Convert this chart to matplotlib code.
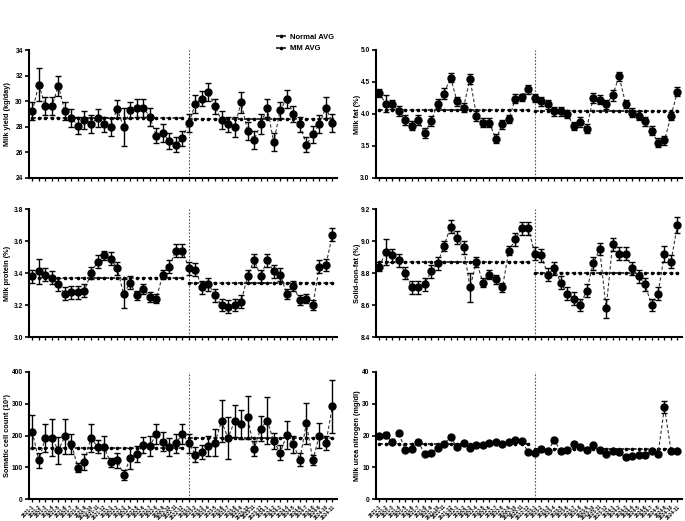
import numpy as np
import matplotlib.pyplot as plt
from matplotlib.lines import Line2D

plt.rcParams["font.family"] = ["Liberation Sans", "DejaVu Sans"]
plt.rcParams["font.weight"] = "bold"
plt.rcParams["axes.labelweight"] = "bold"

# months 2021-1 .. 2024-11
MONTHS = [f"{y}-{m}" for y in (2021, 2022, 2023, 2024) for m in range(1, 13)][:47]
SPLIT = 24  # first MM month

yield_vals = [29.2, 31.3, 29.6, 29.6, 31.2, 29.2, 28.7, 28.1, 28.5, 28.2, 28.7, 28.2,
              28.0, 29.4, 28.0, 29.3, 29.5, 29.5, 28.8, 27.3, 27.5, 26.9, 26.6, 27.1,
              28.3, 29.8, 30.2, 30.7, 29.6, 28.5, 28.2, 28.0, 29.9, 27.7, 27.0, 28.2,
              29.5, 26.8, 29.3, 30.2, 29.0, 28.2, 26.6, 27.4, 28.2, 29.5, 28.3]
yield_err = [0.7, 1.3, 0.7, 0.7, 0.8, 0.7, 0.7, 0.7, 0.7, 0.7, 0.7, 0.6,
             0.7, 0.7, 1.5, 0.6, 0.7, 0.7, 0.7, 0.6, 0.7, 0.6, 0.6, 0.6,
             0.7, 0.7, 0.6, 0.7, 0.6, 0.7, 0.6, 0.8, 0.8, 0.7, 0.7, 0.8,
             0.7, 0.7, 0.6, 0.7, 0.6, 0.6, 0.6, 0.7, 0.7, 0.8, 0.7]

fat_vals = [4.33, 4.16, 4.15, 4.05, 3.91, 3.82, 3.91, 3.70, 3.89, 4.16, 4.32, 4.57,
            4.20, 4.10, 4.55, 3.97, 3.86, 3.86, 3.61, 3.84, 3.92, 4.24, 4.26, 4.39,
            4.25, 4.20, 4.15, 4.04, 4.04, 4.00, 3.81, 3.88, 3.77, 4.25, 4.22, 4.15,
            4.29, 4.59, 4.16, 4.02, 3.97, 3.89, 3.74, 3.55, 3.59, 3.97, 4.35]
fat_err = [0.06, 0.13, 0.07, 0.08, 0.08, 0.07, 0.08, 0.08, 0.08, 0.07, 0.08, 0.07,
           0.07, 0.07, 0.08, 0.08, 0.07, 0.07, 0.07, 0.07, 0.06, 0.07, 0.06, 0.07,
           0.07, 0.07, 0.07, 0.07, 0.07, 0.07, 0.06, 0.08, 0.07, 0.08, 0.07, 0.07,
           0.08, 0.07, 0.06, 0.07, 0.07, 0.07, 0.07, 0.07, 0.07, 0.06, 0.07]

protein_vals = [3.38, 3.41, 3.39, 3.37, 3.33, 3.27, 3.28, 3.28, 3.29, 3.40, 3.47, 3.51,
                3.49, 3.43, 3.27, 3.34, 3.26, 3.30, 3.25, 3.24, 3.39, 3.44, 3.54, 3.54,
                3.43, 3.42, 3.31, 3.33, 3.26, 3.20, 3.19, 3.20, 3.22, 3.38, 3.48, 3.38,
                3.48, 3.41, 3.39, 3.27, 3.32, 3.23, 3.24, 3.20, 3.44, 3.45, 3.64]
protein_err = [0.04, 0.08, 0.04, 0.04, 0.04, 0.04, 0.04, 0.04, 0.04, 0.04, 0.04, 0.03,
               0.04, 0.04, 0.09, 0.04, 0.03, 0.03, 0.03, 0.03, 0.03, 0.04, 0.04, 0.04,
               0.04, 0.04, 0.04, 0.04, 0.04, 0.04, 0.04, 0.04, 0.04, 0.04, 0.04, 0.04,
               0.04, 0.04, 0.04, 0.03, 0.03, 0.03, 0.03, 0.03, 0.04, 0.04, 0.04]

snf_vals = [8.84, 8.93, 8.91, 8.88, 8.80, 8.71, 8.71, 8.73, 8.81, 8.86, 8.97, 9.09,
            9.02, 8.96, 8.71, 8.87, 8.74, 8.79, 8.76, 8.71, 8.94, 9.01, 9.08, 9.08,
            8.92, 8.91, 8.79, 8.83, 8.74, 8.67, 8.64, 8.60, 8.69, 8.86, 8.95, 8.58,
            8.98, 8.92, 8.92, 8.83, 8.78, 8.73, 8.60, 8.67, 8.92, 8.87, 9.10]
snf_err = [0.03, 0.08, 0.04, 0.04, 0.04, 0.04, 0.04, 0.04, 0.04, 0.04, 0.03, 0.04,
           0.04, 0.04, 0.09, 0.03, 0.03, 0.03, 0.03, 0.03, 0.03, 0.04, 0.04, 0.04,
           0.04, 0.04, 0.04, 0.04, 0.04, 0.04, 0.04, 0.04, 0.04, 0.04, 0.04, 0.06,
           0.04, 0.04, 0.04, 0.04, 0.04, 0.04, 0.04, 0.04, 0.05, 0.04, 0.05]

scc_vals = [212, 122, 193, 193, 153, 197, 173, 99, 117, 192, 165, 163,
            115, 122, 76, 128, 143, 170, 166, 205, 180, 165, 175, 205,
            175, 140, 147, 168, 177, 245, 192, 245, 235, 257, 158, 222,
            247, 182, 146, 202, 173, 124, 238, 123, 200, 177, 292]
scc_err = [51, 24, 44, 58, 42, 54, 31, 14, 25, 44, 21, 35,
           15, 24, 16, 33, 25, 25, 31, 32, 30, 28, 31, 31,
           30, 25, 22, 32, 42, 67, 65, 50, 45, 67, 24, 40,
           75, 25, 23, 44, 27, 21, 65, 17, 40, 22, 83]

mun_vals = [19.7, 20.1, 18.0, 20.8, 15.5, 15.6, 18.1, 14.2, 14.5, 16.0, 17.4, 19.5,
            16.4, 17.5, 16.2, 17.1, 16.9, 17.5, 17.8, 17.4, 18.0, 18.5, 18.2, 14.7,
            14.5, 15.9, 15.1, 18.6, 15.0, 15.4, 17.3, 16.5, 15.5, 16.9, 15.4, 14.2,
            15.0, 14.9, 13.1, 13.6, 13.8, 13.9, 15.0, 14.1, 28.9, 15.2, 15.1]
mun_err = [0.5, 0.9, 0.5, 0.6, 0.4, 0.4, 0.5, 0.4, 0.4, 0.4, 0.4, 0.6,
           0.5, 0.4, 0.5, 0.4, 0.4, 0.4, 0.4, 0.4, 0.5, 0.5, 0.5, 0.4,
           0.4, 0.4, 0.4, 0.5, 0.4, 0.4, 0.5, 0.4, 0.4, 0.5, 0.4, 0.4,
           0.4, 0.4, 0.4, 0.4, 0.4, 0.4, 0.4, 0.4, 1.9, 0.4, 0.4]

# (normal AVG, MM AVG)
yield_avg = (28.67, 28.6)
fat_avg = (4.07, 4.04)
protein_avg = (3.37, 3.34)
snf_avg = (8.87, 8.80)
scc_avg = (160, 193)
mun_avg = (17.3, 15.8)

PANELS = [
    ("Milk yield (kg/day)", yield_vals, yield_err, yield_avg, (24, 34), [24, 26, 28, 30, 32, 34], None),
    ("Milk fat (%)", fat_vals, fat_err, fat_avg, (3.0, 5.0), [3.0, 3.5, 4.0, 4.5, 5.0], "{:.1f}"),
    ("Milk protein (%)", protein_vals, protein_err, protein_avg, (3.0, 3.8), [3.0, 3.2, 3.4, 3.6, 3.8], "{:.1f}"),
    ("Solid-non-fat (%)", snf_vals, snf_err, snf_avg, (8.4, 9.2), [8.4, 8.6, 8.8, 9.0, 9.2], "{:.1f}"),
    ("Somatic cell count (10\u00b3)", scc_vals, scc_err, scc_avg, (0, 400), [0, 100, 200, 300, 400], None),
    ("Milk urea nitrogen (mg/dl)", mun_vals, mun_err, mun_avg, (0, 40), [0, 10, 20, 30, 40], None),
]

# axes boxes in pixels: (left, right), (top, bottom); ylabel anchor x (right side of rotated text)
W, H = 685, 521
COLS = [(29, 337), (376, 682)]
LABEL_X = [11, 361]
ROWS = [(50, 178), (209, 337), (372, 499)]

fig = plt.figure(figsize=(W / 100, H / 100), dpi=100)
x = np.arange(len(MONTHS))

for i, (label, vals, err, avg, ylim, yticks, fmt) in enumerate(PANELS):
    c0, c1 = COLS[i % 2]
    r0, r1 = ROWS[i // 2]
    ax = fig.add_axes([c0 / W, 1 - r1 / H, (c1 - c0) / W, (r1 - r0) / H])

    ax.plot(x, vals, ls=(0, (3, 2)), color="#333333", lw=0.8, zorder=2)
    ax.errorbar(x, vals, yerr=err, fmt="o", color="black", ms=5,
                capsize=2, elinewidth=1, capthick=1, zorder=3)

    ax.plot(x[:SPLIT], [avg[0]] * SPLIT, ls=(0, (2.5, 1.5)), color="black",
            lw=1.1, marker="o", ms=1.6, zorder=1)
    ax.plot(x[SPLIT:], [avg[1]] * (len(x) - SPLIT), ls=(0, (2.5, 1.5)), color="black",
            lw=1.1, marker="o", ms=1.6, zorder=1)

    ax.axvline(SPLIT - 0.05, color="#555555", lw=0.8, ls=(0, (1.5, 1.5)), zorder=0)

    ax.set_xlim(-0.5, 46.7)
    ax.set_ylim(*ylim)
    ax.set_yticks(yticks)
    if fmt:
        ax.set_yticklabels([fmt.format(t) for t in yticks])
    ax.set_xticks(x)
    if i // 2 == 2:
        ax.set_xticklabels(MONTHS, rotation=45, ha="right", rotation_mode="anchor",
                           fontsize=3.6)
    else:
        ax.set_xticklabels([])

    ax.set_ylabel(label, fontsize=5.3)
    ax.yaxis.set_label_coords((LABEL_X[i % 2] - c0) / (c1 - c0), 0.5)
    for s in ("top", "right"):
        ax.spines[s].set_visible(False)
    for s in ("left", "bottom"):
        ax.spines[s].set_linewidth(1.5)
    ax.tick_params(axis="y", length=3, width=1.2, labelsize=4.8, pad=1.5)
    ax.tick_params(axis="x", length=2.5, width=0.9, pad=1)

handles = [
    Line2D([], [], color="black", ls=(0, (2.5, 1.5)), lw=1.1, marker="o", ms=1.6),
    Line2D([], [], color="black", ls=(0, (2.5, 1.5)), lw=1.1, marker="o", ms=1.6),
]
fig.legend(handles, ["Normal AVG", "MM AVG"], loc="upper left",
           bbox_to_anchor=(272 / W, 1 - 30 / H), frameon=False,
           prop={"size": 5.5, "weight": "bold"}, handlelength=1.3,
           handletextpad=0.6, labelspacing=0.5, borderpad=0)

fig.savefig("out.png", dpi=100)
